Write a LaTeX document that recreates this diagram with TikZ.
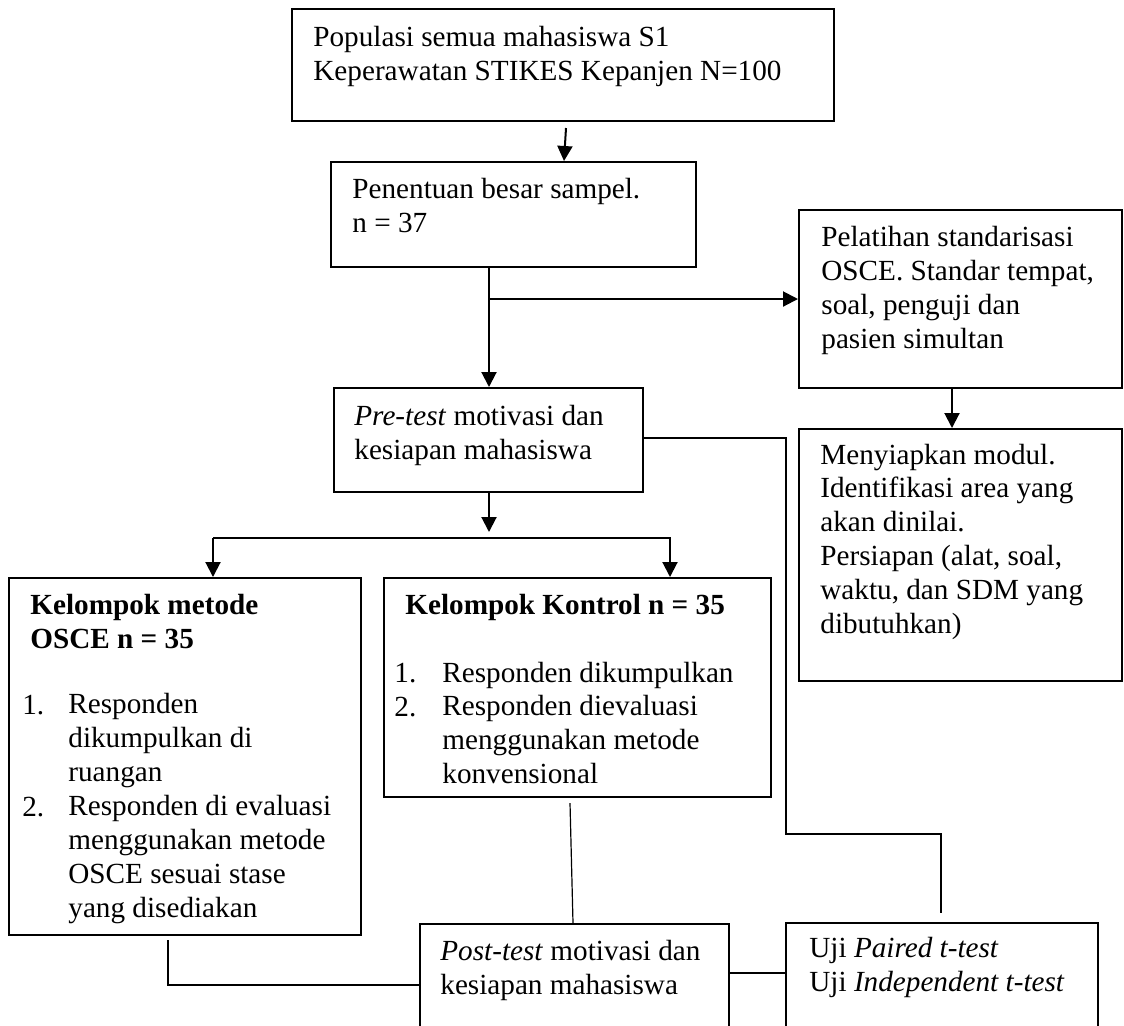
\documentclass[tikz,border=0pt]{standalone}
\usepackage{fontspec}
\setmainfont{Liberation Serif}
\usetikzlibrary{arrows.meta,fit}
\begin{document}
\begin{tikzpicture}[x=0.5pt,y=-0.5pt,
  box/.style={draw,line width=1pt,inner sep=0pt},
  txt/.style={font=\fontsize{14.6}{16.9}\selectfont,inner sep=0pt,align=left,anchor=base west},
  arr/.style={line width=1pt,-{Triangle[length=7.5pt,width=7.5pt]}},
  ln/.style={line width=1pt},
  thinln/.style={line width=0.6pt}]
\useasboundingbox (0,0) rectangle (1124,1025);
\clip (0,0) rectangle (1124,1025);
% boxes
\node[box,fit={(292,9) (834,121)}] (b1) {};
\node[box,fit={(331,162) (696,267)}] (b2) {};
\node[box,fit={(799,210) (1122,388)}] (b3) {};
\node[box,fit={(799,429) (1122,681)}] (b4) {};
\node[box,fit={(334,388) (643,492)}] (b5) {};
\node[box,fit={(9,578) (361,935)}] (b6) {};
\node[box,fit={(384,578) (771,797)}] (b7) {};
\node[box,fit={(420,924) (729,1060)}] (b8) {};
\node[box,fit={(786,923) (1098,1060)}] (b9) {};
% texts (anchored at the baseline of their last line)
\node[txt] (t1) at (313,80) {Populasi semua mahasiswa S1\\Keperawatan STIKES Kepanjen N=100};
\node[txt] (t2) at (352,232) {Penentuan besar sampel.\\n = 37};
\node[txt] (t3) at (821,348) {Pelatihan standarisasi\\OSCE. Standar tempat,\\soal, penguji dan\\pasien simultan};
\node[txt] (t4) at (820,633) {Menyiapkan modul.\\Identifikasi area yang\\akan dinilai.\\Persiapan (alat, soal,\\waktu, dan SDM yang\\dibutuhkan)};
\node[txt] (t5) at (354,459) {\textit{Pre-test} motivasi dan\\kesiapan mahasiswa};
\node[txt,font=\fontsize{14.6}{16.9}\selectfont\bfseries] (t6) at (30,648) {Kelompok metode\\OSCE n = 35};
\node[txt] (n61) at (22,714) {1.};
\node[txt] (i61) at (68,781) {Responden\\dikumpulkan di\\ruangan};
\node[txt] (n62) at (22,816) {2.};
\node[txt] (i62) at (68,917) {Responden di evaluasi\\menggunakan metode\\OSCE sesuai stase\\yang disediakan};
\node[txt,font=\fontsize{14.6}{16.9}\selectfont\bfseries] (t7) at (405,614) {Kelompok Kontrol n = 35};
\node[txt] (n71) at (394,682) {1.};
\node[txt] (i71) at (442,682) {Responden dikumpulkan};
\node[txt] (n72) at (394,716) {2.};
\node[txt] (i72) at (442,783) {Responden dievaluasi\\menggunakan metode\\konvensional};
\node[txt] (t8) at (440,994) {\textit{Post-test} motivasi dan\\kesiapan mahasiswa};
\node[txt] (t9) at (809,991) {Uji \textit{Paired t-test}\\Uji \textit{Independent t-test}};
% connectors
\coordinate (c1a) at (566,128);
\coordinate (c1b) at (564,0);
\draw[arr] (c1a) -- (c1b |- b2.north);
\coordinate (j1) at (489,299);
\draw[arr] (j1 |- b2.south) -- (j1 |- b5.north);
\draw[arr] (j1) -- (j1 -| b3.west);
\coordinate (j2) at (952,0);
\draw[arr] (j2 |- b3.south) -- (j2 |- b4.north);
\coordinate (j3) at (489,532);
\draw[arr] (j1 |- b5.south) -- (j3);
\coordinate (j4) at (213,538);
\coordinate (j5) at (670,538);
\draw[arr] (j4) -- (j4 |- b6.north);
\draw[arr] (j4) -- (j5) -- (j5 |- b7.north);
\coordinate (k1) at (786,438);
\coordinate (k2) at (941,834);
\coordinate (k3) at (941,913);
\draw[thinln] (k1 -| b5.east) -- (k1) -- (k1 |- k2) -- (k2) -- (k3);
\coordinate (m1) at (570,803);
\coordinate (m2) at (573,0);
\draw[thinln] (m1) -- (m2 |- b8.north);
\coordinate (o1) at (168,940);
\coordinate (o2) at (168,985);
\draw[ln] (o1) -- (o2) -- (o2 -| b8.west);
\coordinate (p1) at (0,973);
\draw[ln] (p1 -| b8.east) -- (p1 -| b9.west);
\end{tikzpicture}
\end{document}
